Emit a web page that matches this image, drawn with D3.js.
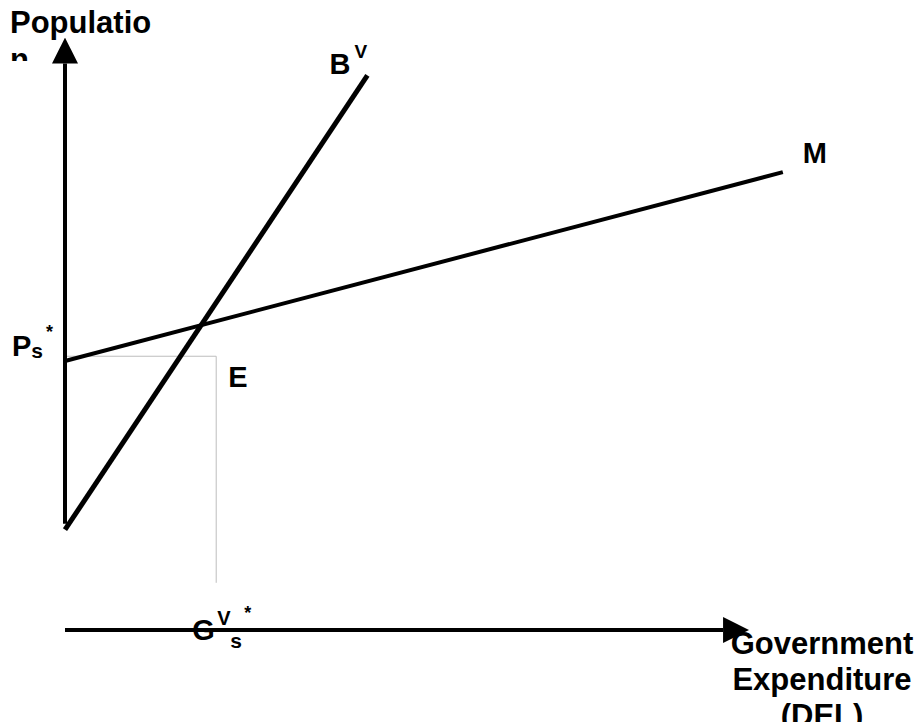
<!DOCTYPE html>
<html>
<head>
<meta charset="utf-8">
<script src="https://cdn.jsdelivr.net/npm/d3@7.9.0/dist/d3.min.js"></script>
<style>
  body { margin: 0; background: #fff; }
  svg text { font-family: "Liberation Sans", Arial, sans-serif; font-weight: bold; fill: #000; }
</style>
</head>
<body>
<div id="chart"></div>
<script>
// diagram data in abstract units (0..100 on both axes)
const mLine = [{ x: 0, y: 45.6 }, { x: 99.7, y: 77.6 }];
const bLine = [{ x: 0, y: 17 }, { x: 42, y: 94 }];
const equilibrium = { x: 21, y: 46.4 };
const dropBottom = 8;
const yAxisRange = [18, 96];
const xAxisRange = [0, 91.4];
const yTitleLines = ['Populatio', 'n'];
const xTitleLines = ['Government', 'Expenditure', '(DEL)'];

const width = 922;
const height = 722;

const xScale = d3.scaleLinear().domain([0, 100]).range([65, 785]);
const yScale = d3.scaleLinear().domain([0, 100]).range([630, 40]);

const svg = d3.select('#chart').append('svg')
  .attr('width', width)
  .attr('height', height);

const defs = svg.append('defs');
defs.append('marker')
  .attr('id', 'arrow')
  .attr('viewBox', '0 0 26 26')
  .attr('refX', 0)
  .attr('refY', 13)
  .attr('markerWidth', 26)
  .attr('markerHeight', 26)
  .attr('markerUnits', 'userSpaceOnUse')
  .attr('orient', 'auto')
  .append('path')
  .attr('d', 'M0,0 L26,13 L0,26 Z')
  .attr('fill', '#000');

defs.append('clipPath').attr('id', 'ytitle-clip')
  .append('rect').attr('x', 0).attr('y', 0).attr('width', 200).attr('height', 61);

const line = d3.line().x(d => xScale(d.x)).y(d => yScale(d.y));

// reference lines to E
svg.append('path')
  .attr('d', line([{ x: 0, y: equilibrium.y }, equilibrium, { x: equilibrium.x, y: dropBottom }]))
  .attr('fill', 'none')
  .attr('stroke', '#bdbdbd')
  .attr('stroke-width', 1);

// axes
svg.append('line')
  .attr('x1', xScale(0)).attr('y1', yScale(yAxisRange[0]))
  .attr('x2', xScale(0)).attr('y2', yScale(yAxisRange[1]))
  .attr('stroke', '#000').attr('stroke-width', 4)
  .attr('marker-end', 'url(#arrow)');

svg.append('line')
  .attr('x1', xScale(xAxisRange[0])).attr('y1', yScale(0))
  .attr('x2', xScale(xAxisRange[1])).attr('y2', yScale(0))
  .attr('stroke', '#000').attr('stroke-width', 4)
  .attr('marker-end', 'url(#arrow)');

// curves
svg.append('path')
  .attr('d', line(mLine))
  .attr('fill', 'none').attr('stroke', '#000').attr('stroke-width', 4);

svg.append('path')
  .attr('d', line(bLine))
  .attr('fill', 'none').attr('stroke', '#000').attr('stroke-width', 5);

// y title (second line cut off like the original)
const yTitle = svg.append('g').attr('clip-path', 'url(#ytitle-clip)');
yTitleLines.forEach((t, i) => {
  yTitle.append('text')
    .attr('x', 10).attr('y', 33 + i * 37)
    .attr('font-size', 31)
    .text(t);
});

// x title
xTitleLines.forEach((t, i) => {
  svg.append('text')
    .attr('x', 822).attr('y', 654 + i * 36)
    .attr('text-anchor', 'middle')
    .attr('font-size', 31)
    .text(t);
});

function label(x, y, parts) {
  const t = svg.append('text').attr('x', x).attr('y', y).attr('font-size', 29);
  parts.forEach(p => {
    const ts = t.append('tspan').text(p.text);
    if (p.size) ts.attr('font-size', p.size);
    if (p.x != null) ts.attr('x', p.x);
    if (p.y != null) ts.attr('y', p.y);
  });
}

const bEnd = bLine[bLine.length - 1];
const mEnd = mLine[mLine.length - 1];

label(xScale(bEnd.x) - 38, yScale(bEnd.y) - 1, [
  { text: 'B' },
  { text: 'V', size: 19, x: xScale(bEnd.x) - 13, y: yScale(bEnd.y) - 17 }
]);

label(xScale(mEnd.x) + 20, yScale(mEnd.y) - 9, [{ text: 'M' }]);

label(12, yScale(equilibrium.y), [
  { text: 'P' },
  { text: 's', size: 21, y: yScale(equilibrium.y) + 2 },
  { text: '*', size: 18, x: 46, y: yScale(equilibrium.y) - 18 }
]);

label(xScale(equilibrium.x) + 12, yScale(equilibrium.y) + 31, [{ text: 'E' }]);

label(xScale(equilibrium.x) - 24, yScale(0) + 10, [
  { text: 'G' },
  { text: 'V', size: 20, x: xScale(equilibrium.x) + 1, y: yScale(0) - 5 },
  { text: 's', size: 21, x: xScale(equilibrium.x) + 14, y: yScale(0) + 18 },
  { text: '*', size: 18, x: xScale(equilibrium.x) + 28, y: yScale(0) - 11 }
]);
</script>
</body>
</html>
